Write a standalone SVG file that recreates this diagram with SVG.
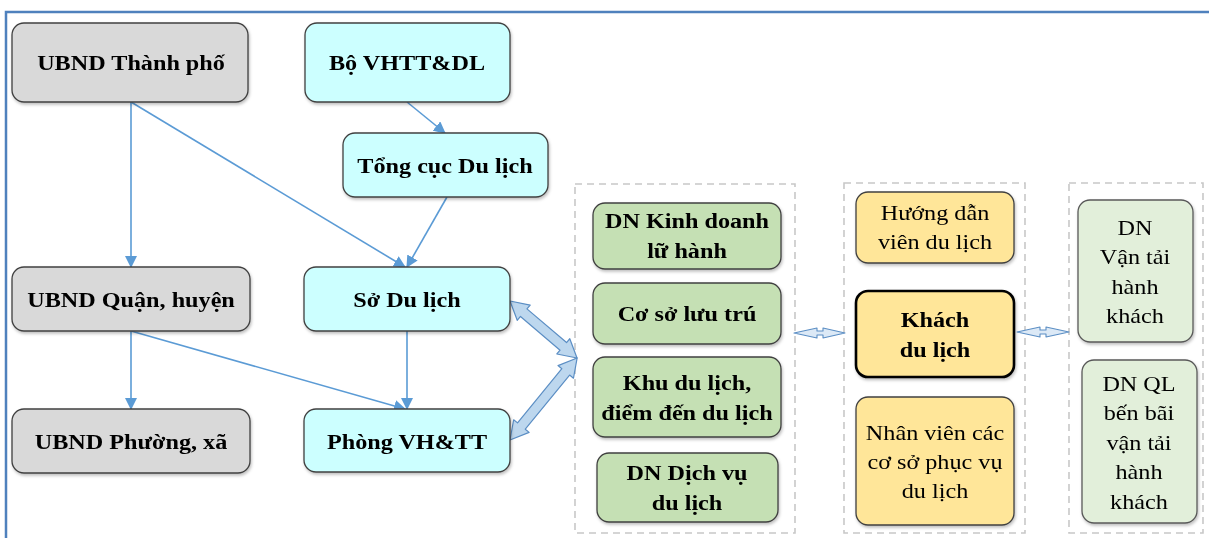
<svg xmlns="http://www.w3.org/2000/svg" width="1209" height="538" viewBox="0 0 1209 538">
  <style>
    .t { font-family: "Liberation Serif", "Times New Roman", serif; font-size: 22px; fill: #000; text-anchor: middle; }
    .b { font-weight: bold; }
    .box { stroke: #404040; stroke-width: 1.3; }
    .gray { fill: #d9d9d9; }
    .cyan { fill: #ccffff; }
    .green { fill: #c5e0b4; }
    .orange { fill: #ffe699; }
    .pale { fill: #e2efda; stroke: #595959; }
    .grp { fill: none; stroke: #c8c8c8; stroke-width: 1.6; stroke-dasharray: 7 5; }
    .link { fill: none; stroke: #5b9bd5; stroke-width: 1.6; marker-end: url(#head); }
    .blk { fill: #bdd7ee; stroke: #5b8ec4; stroke-width: 1.2; stroke-linejoin: round; }
    .thin { fill: #dce9f6; stroke: #5b8ec4; stroke-width: 1.1; stroke-linejoin: round; }
  </style>
  <defs>
    <marker id="head" markerUnits="userSpaceOnUse" markerWidth="12" markerHeight="12" refX="11" refY="6" orient="auto">
      <path d="M0,0 L12,6 L0,12 z" fill="#5b9bd5"/>
    </marker>
    <filter id="sh" x="-10%" y="-10%" width="130%" height="140%">
      <feDropShadow dx="1" dy="2" stdDeviation="1.5" flood-color="#000" flood-opacity="0.25"/>
    </filter>
  </defs>

  <rect width="1209" height="538" fill="#fff"/>

  <!-- page frame -->
  <path d="M6,538 L6,12 L1209,12" fill="none" stroke="#4f81bd" stroke-width="2.5"/>

  <!-- dashed group frames -->
  <g id="groups">
    <rect class="grp" x="575" y="184" width="220" height="349"/>
    <rect class="grp" x="844" y="183" width="181" height="350"/>
    <rect class="grp" x="1069" y="183" width="134" height="350"/>
  </g>

  <!-- connectors -->
  <g id="connectors">
    <line class="link" x1="131" y1="102" x2="131" y2="267"/>
    <line class="link" x1="131" y1="102" x2="405" y2="267"/>
    <line class="link" x1="407" y1="102" x2="445" y2="133"/>
    <line class="link" x1="447" y1="197" x2="407" y2="267"/>
    <line class="link" x1="131" y1="331" x2="131" y2="409"/>
    <line class="link" x1="131" y1="331" x2="405" y2="409"/>
    <line class="link" x1="407" y1="331" x2="407" y2="409"/>
    <!-- wide two-way arrows to the business group -->
    <polygon class="blk" transform="translate(510,301) rotate(40.4)" points="0,0 18,-10 18,-5 70,-5 70,-10 88,0 70,10 70,5 18,5 18,10"/>
    <polygon class="blk" transform="translate(510,440) rotate(-50.7)" points="0,0 18,-10 18,-5 88,-5 88,-10 106,0 88,10 88,5 18,5 18,10"/>
    <!-- slim two-way arrows around the visitor group -->
    <polygon class="thin" transform="translate(794,333)" points="0,0 23,-5 23,-2 29,-2 29,-5 51,0 29,5 29,2 23,2 23,5"/>
    <polygon class="thin" transform="translate(1017,332)" points="0,0 23,-5 23,-2 29,-2 29,-5 52,0 29,5 29,2 23,2 23,5"/>
  </g>

  <!-- administrative column -->
  <g id="ubnd-tp" filter="url(#sh)">
    <rect class="box gray" x="12" y="23" width="236" height="79" rx="12"/>
    <text class="t b" transform="translate(131,70) scale(1.1,1)">UBND Thành phố</text>
  </g>
  <g id="ubnd-qh" filter="url(#sh)">
    <rect class="box gray" x="12" y="267" width="238" height="64" rx="12"/>
    <text class="t b" transform="translate(131,307) scale(1.1,1)">UBND Quận, huyện</text>
  </g>
  <g id="ubnd-px" filter="url(#sh)">
    <rect class="box gray" x="12" y="409" width="238" height="64" rx="12"/>
    <text class="t b" transform="translate(131,449) scale(1.1,1)">UBND Phường, xã</text>
  </g>

  <!-- tourism authority column -->
  <g id="bo-vhttdl" filter="url(#sh)">
    <rect class="box cyan" x="305" y="23" width="205" height="79" rx="12"/>
    <text class="t b" transform="translate(407,70) scale(1.1,1)">Bộ VHTT&amp;DL</text>
  </g>
  <g id="tong-cuc" filter="url(#sh)">
    <rect class="box cyan" x="343" y="133" width="205" height="64" rx="12"/>
    <text class="t b" transform="translate(445,173) scale(1.1,1)">Tổng cục Du lịch</text>
  </g>
  <g id="so-du-lich" filter="url(#sh)">
    <rect class="box cyan" x="304" y="267" width="206" height="64" rx="12"/>
    <text class="t b" transform="translate(407,307) scale(1.1,1)">Sở Du lịch</text>
  </g>
  <g id="phong-vhtt" filter="url(#sh)">
    <rect class="box cyan" x="304" y="409" width="206" height="63" rx="12"/>
    <text class="t b" transform="translate(407,449) scale(1.1,1)">Phòng VH&amp;TT</text>
  </g>

  <!-- tourism businesses -->
  <g id="dn-lu-hanh" filter="url(#sh)">
    <rect class="box green" x="593" y="203" width="188" height="66" rx="12"/>
    <text class="t b" transform="translate(687,228) scale(1.1,1)"><tspan x="0" y="0">DN Kinh doanh</tspan><tspan x="0" y="30">lữ hành</tspan></text>
  </g>
  <g id="co-so-luu-tru" filter="url(#sh)">
    <rect class="box green" x="593" y="283" width="188" height="61" rx="12"/>
    <text class="t b" transform="translate(687,321) scale(1.1,1)">Cơ sở lưu trú</text>
  </g>
  <g id="khu-du-lich" filter="url(#sh)">
    <rect class="box green" x="593" y="357" width="188" height="80" rx="12"/>
    <text class="t b" transform="translate(687,390) scale(1.1,1)"><tspan x="0" y="0">Khu du lịch,</tspan><tspan x="0" y="30">điểm đến du lịch</tspan></text>
  </g>
  <g id="dn-dich-vu" filter="url(#sh)">
    <rect class="box green" x="597" y="453" width="181" height="69" rx="12"/>
    <text class="t b" transform="translate(687,480) scale(1.1,1)"><tspan x="0" y="0">DN Dịch vụ</tspan><tspan x="0" y="30">du lịch</tspan></text>
  </g>

  <!-- visitor and service staff -->
  <g id="huong-dan-vien" filter="url(#sh)">
    <rect class="box orange" x="856" y="192" width="158" height="71" rx="12"/>
    <text class="t" transform="translate(935,220) scale(1.1,1)"><tspan x="0" y="0">Hướng dẫn</tspan><tspan x="0" y="29">viên du lịch</tspan></text>
  </g>
  <g id="khach-du-lich" filter="url(#sh)">
    <rect class="orange" x="856" y="291" width="158" height="86" rx="12" stroke="#000" stroke-width="2.6"/>
    <text class="t b" transform="translate(935,327) scale(1.1,1)"><tspan x="0" y="0">Khách</tspan><tspan x="0" y="30">du lịch</tspan></text>
  </g>
  <g id="nhan-vien" filter="url(#sh)">
    <rect class="box orange" x="856" y="397" width="158" height="128" rx="12"/>
    <text class="t" transform="translate(935,440) scale(1.1,1)"><tspan x="0" y="0">Nhân viên các</tspan><tspan x="0" y="29">cơ sở phục vụ</tspan><tspan x="0" y="58">du lịch</tspan></text>
  </g>

  <!-- transport businesses -->
  <g id="dn-van-tai" filter="url(#sh)">
    <rect class="box pale" x="1078" y="200" width="115" height="142" rx="12"/>
    <text class="t" transform="translate(1135,235) scale(1.1,1)"><tspan x="0" y="0">DN</tspan><tspan x="0" y="29.5">Vận tải</tspan><tspan x="0" y="59">hành</tspan><tspan x="0" y="88.5">khách</tspan></text>
  </g>
  <g id="dn-ben-bai" filter="url(#sh)">
    <rect class="box pale" x="1082" y="360" width="115" height="163" rx="12"/>
    <text class="t" transform="translate(1139,391) scale(1.1,1)"><tspan x="0" y="0">DN QL</tspan><tspan x="0" y="29.5">bến bãi</tspan><tspan x="0" y="59">vận tải</tspan><tspan x="0" y="88.5">hành</tspan><tspan x="0" y="118">khách</tspan></text>
  </g>
</svg>
